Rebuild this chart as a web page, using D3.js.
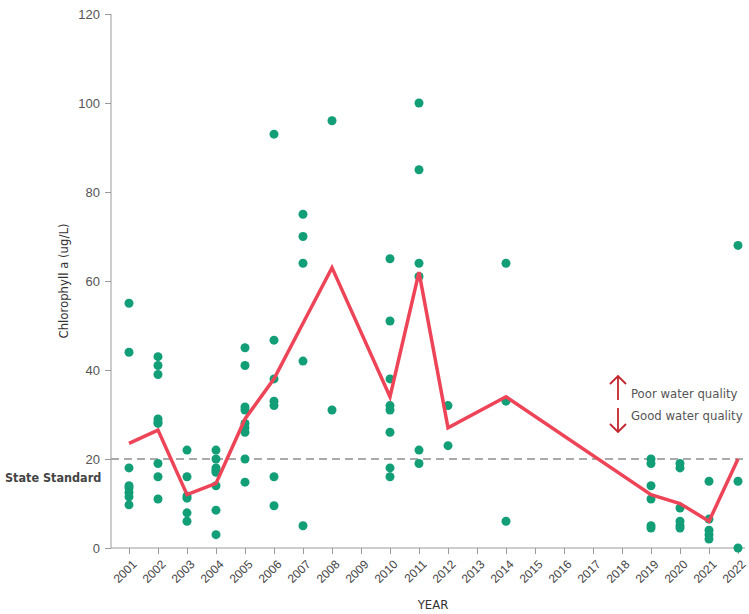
<!DOCTYPE html>
<html><head><meta charset="utf-8">
<script src="https://cdn.jsdelivr.net/npm/d3@7"></script>
<style>body{margin:0;background:#fff;font-family:"DejaVu Sans Condensed","Open Sans",sans-serif}</style>
</head><body><svg id="c" width="749" height="614"></svg>
<script>
const years = d3.range(2001, 2023).map(String);
const sampleYears = ['2001','2002','2003','2004','2005','2006','2007','2008','2010','2011','2012','2014','2019','2020','2021','2022'];
const samples = [
  [55,44,18,14,13.5,12.5,11.5,9.7],
  [43,41,39,29,28.3,28,19,16,11],
  [22,16,11.7,11.2,7.9,6],
  [22,20,18,17.5,17,14,8.5,3],
  [45,41,31.7,31,28,27,26,20,14.8],
  [93,46.7,38,33,32,16,9.5],
  [75,70,64,42,5],
  [96,31],
  [65,51,38,32,31,26,18,16],
  [100,85,64,61,22,19],
  [32,23],
  [64,33,6],
  [20,19,14,11,5,4.5],
  [19,18,9,6,5,4.5],
  [15,6.5,4,3,2],
  [68,15,0]
];
const means = [23.5,26.5,12,14.5,29,38,50.5,63,34,62,27,34,12,10,6,20];
const yTicks = [0,20,40,60,80,100,120];
const standard = 20;

const svg = d3.select('#c');
const x = d3.scalePoint().domain(years).range([129,738]);
const y = d3.scaleLinear().domain([0,120]).range([548,14]);

const ya = svg.append('g').attr('transform','translate(111,0)')
  .call(d3.axisLeft(y).tickValues(yTicks).tickSize(6).tickPadding(5));
ya.selectAll('text').attr('font-size',13).attr('fill','#555');
ya.selectAll('line,path').attr('stroke','#999');
ya.select('path').attr('d','M0,14V548');

const xa = svg.append('g').attr('transform','translate(0,548)')
  .call(d3.axisBottom(x).tickSize(6));
xa.select('path').attr('d','M111,0H745').attr('stroke','#999');
xa.selectAll('line').attr('stroke','#999');
xa.selectAll('text').attr('font-size',12).attr('fill','#444')
  .attr('y',0).attr('text-anchor','end').attr('dy','0.35em')
  .attr('transform','translate(5,14) rotate(-45)');

svg.append('line').attr('x1',111).attr('x2',745).attr('y1',y(standard)).attr('y2',y(standard))
  .attr('stroke','#aaa').attr('stroke-width',2).attr('stroke-dasharray','8,5');

const pts = [];
sampleYears.forEach((yr,i) => samples[i].forEach(v => pts.push({yr, v})));
svg.append('g').selectAll('circle').data(pts).join('circle')
  .attr('cx', d => x(d.yr)).attr('cy', d => y(d.v)).attr('r',4.5).attr('fill','#129e77');

svg.append('path').datum(sampleYears.map((yr,i) => [yr, means[i]]))
  .attr('fill','none').attr('stroke','#ee4458').attr('stroke-width',3.5).attr('stroke-linejoin','miter')
  .attr('d', d3.line().x(d => x(d[0])).y(d => y(d[1])));

svg.append('text').attr('x',5).attr('y',y(standard)+23).attr('font-size',12.5).attr('font-weight','bold')
  .attr('fill','#444').text('State Standard');
svg.append('text').attr('transform','translate(68,281) rotate(-90)').attr('text-anchor','middle')
  .attr('font-size',13).attr('fill','#333').text('Chlorophyll a (ug/L)');
svg.append('text').attr('x',433).attr('y',609).attr('text-anchor','middle')
  .attr('font-size',13).attr('fill','#333').text('YEAR');

// quality arrows
const ar = svg.append('g').attr('stroke','#c4262e').attr('stroke-width',1.8).attr('fill','none');
ar.append('path').attr('d','M618,400V376M610,384L618,376L626,384');
ar.append('path').attr('d','M618,408V432M610,424L618,432L626,424');
svg.append('text').attr('x',631).attr('y',398).attr('font-size',13).attr('fill','#555').text('Poor water quality');
svg.append('text').attr('x',631).attr('y',420).attr('font-size',13).attr('fill','#555').text('Good water quality');
</script></body></html>
